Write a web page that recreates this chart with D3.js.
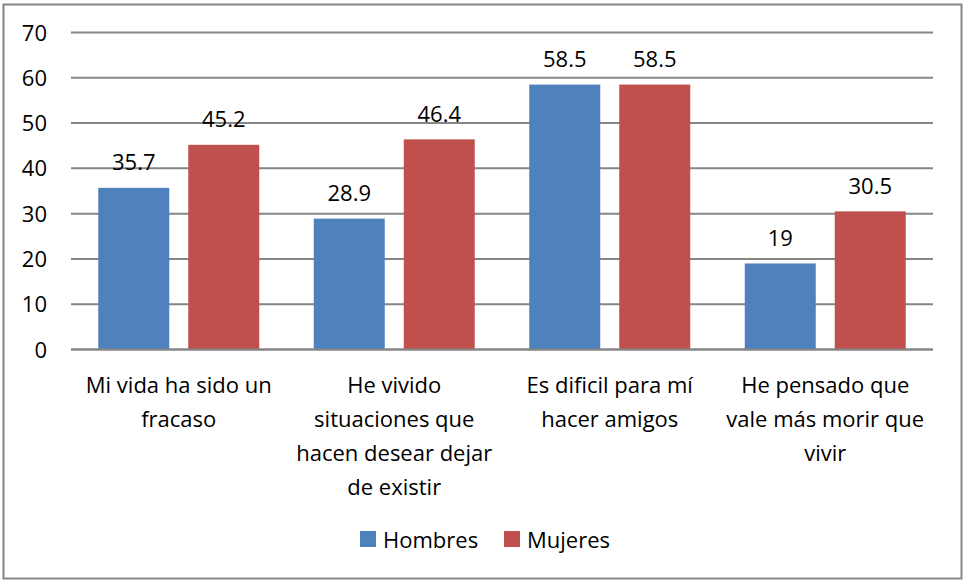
<!DOCTYPE html>
<html><head><meta charset="utf-8">
<script src="https://cdn.jsdelivr.net/npm/d3@7"></script>
<style>body{margin:0;background:#fff}svg{display:block}text{font-family:"Open Sans",sans-serif;fill:#000}</style>
</head><body>
<script>
const categories = [["Mi vida ha sido un","fracaso"],["He vivido","situaciones que","hacen desear dejar","de existir"],["Es dificil para mí","hacer amigos"],["He pensado que","vale más morir que","vivir"]];
const seriesNames = ["Hombres","Mujeres"];
const hombres = [35.7,28.9,58.5,19];
const mujeres = [45.2,46.4,58.5,30.5];
const yTicks = [0,10,20,30,40,50,60,70];
const colors = ["#4F81BD","#C0504D"];

const W=963,H=580, FS=22;
const svg=d3.select("body").append("svg").attr("width",W).attr("height",H);
svg.append("rect").attr("x",3.5).attr("y",4.5).attr("width",958).attr("height",574).attr("fill","#fff").attr("stroke","#868686").attr("stroke-width",2);

const x0=d3.scaleBand().domain(d3.range(categories.length)).range([71,933]).paddingInner(0).paddingOuter(0);
const y=d3.scaleLinear().domain([0,70]).range([349.5,32.5]);
const barW=71, gap=19;

const g=svg.append("g");
g.selectAll("line.grid").data(yTicks).enter().append("line")
 .attr("x1",71).attr("x2",933).attr("y1",d=>y(d)).attr("y2",d=>y(d))
 .attr("stroke","#868686").attr("stroke-width",2);
g.selectAll("text.yt").data(yTicks).enter().append("text")
 .attr("x",47).attr("y",d=>y(d)+8).attr("text-anchor","end").attr("font-size",FS).text(d=>d);

const series=[hombres,mujeres];
series.forEach((vals,si)=>{
  vals.forEach((v,i)=>{
    const cx=x0(i)+x0.bandwidth()/2;
    const bx= si===0 ? cx-gap/2-barW : cx+gap/2;
    g.append("rect").attr("x",bx).attr("y",y(v)).attr("width",barW).attr("height",y(0)-y(v)).attr("fill",colors[si]);
    g.append("text").attr("x",bx+barW/2).attr("y",y(v)-17.5).attr("text-anchor","middle").attr("font-size",FS).text(v);
  });
});
g.append("line").attr("x1",71).attr("x2",933).attr("y1",y(0)).attr("y2",y(0)).attr("stroke","#868686").attr("stroke-width",2);

categories.forEach((lines,i)=>{
  const cx=x0(i)+x0.bandwidth()/2;
  const t=g.append("text").attr("text-anchor","middle").attr("font-size",FS);
  lines.forEach((l,j)=>t.append("tspan").attr("x",cx).attr("y",393+j*34).text(l));
});

const legX=[360,504];
seriesNames.forEach((n,i)=>{
  svg.append("rect").attr("x",legX[i]).attr("y",531).attr("width",16).attr("height",16).attr("fill",colors[i]);
  svg.append("text").attr("x",legX[i]+23).attr("y",548).attr("font-size",FS).text(n);
});
</script>
</body></html>
